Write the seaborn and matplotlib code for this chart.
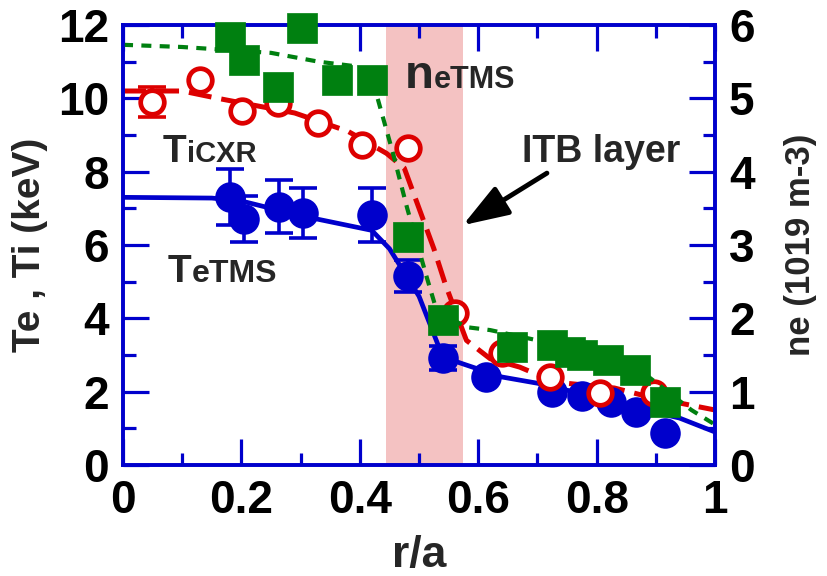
import numpy as np
import pandas as pd
import matplotlib
matplotlib.use("Agg")
import matplotlib.pyplot as plt
import seaborn as sns
from matplotlib.ticker import MultipleLocator, FuncFormatter

# ---------------- data ----------------
# Te (TMS), keV
te_r = [0.181, 0.204, 0.264, 0.304, 0.421, 0.481, 0.541, 0.613, 0.725, 0.775, 0.824, 0.867, 0.916]
te_val = [7.31, 6.72, 7.05, 6.87, 6.82, 5.15, 2.92, 2.40, 1.99, 1.88, 1.72, 1.45, 0.87]
te_err = [0.76, 0.63, 0.72, 0.68, 0.74, 0.44, 0.33, 0, 0, 0, 0, 0, 0]
te_fit_r = [0.0, 0.15, 0.2, 0.3, 0.42, 0.45, 0.5, 0.54, 0.57, 0.64, 0.7, 0.8, 0.86, 0.94, 1.0]
te_fit = [7.3, 7.28, 7.2, 6.8, 6.4, 5.9, 4.6, 2.95, 2.78, 2.4, 2.23, 1.85, 1.58, 1.28, 0.9]

# Ti (CXR), keV
ti_r = [0.049, 0.130, 0.201, 0.262, 0.329, 0.404, 0.481, 0.561, 0.640, 0.721, 0.806, 0.897]
ti_val = [9.9, 10.5, 9.65, 9.87, 9.33, 8.73, 8.64, 4.15, 3.05, 2.4, 1.96, 1.96]
ti_err = [0.41, 0, 0, 0, 0, 0, 0, 0, 0, 0, 0, 0]
ti_fit_r = [0.0, 0.1, 0.16, 0.29, 0.38, 0.445, 0.475, 0.5, 0.525, 0.545, 0.58, 0.62, 0.67, 0.73, 0.83, 0.89, 1.0]
ti_fit = [10.2, 10.2, 10.0, 9.6, 9.1, 8.5, 8.1, 7.0, 5.9, 4.9, 3.4, 2.9, 2.67, 2.26, 2.1, 1.85, 1.5]

# ne (TMS), 1e19 m-3
ne_r = [0.181, 0.204, 0.262, 0.302, 0.361, 0.421, 0.481, 0.541, 0.657, 0.725, 0.755, 0.775, 0.819, 0.865, 0.916]
ne_val = [5.84, 5.52, 5.15, 5.96, 5.25, 5.25, 3.11, 1.98, 1.61, 1.64, 1.54, 1.50, 1.43, 1.30, 0.86]
ne_fit_r = [0.0, 0.1, 0.25, 0.33, 0.4, 0.43, 0.456, 0.48, 0.513, 0.53, 0.58, 0.62, 0.7, 0.8, 0.88, 0.92, 0.96, 1.0]
ne_fit = [5.73, 5.7, 5.62, 5.5, 5.43, 5.0, 4.25, 3.5, 2.56, 2.1, 1.88, 1.84, 1.7, 1.5, 1.25, 1.0, 0.75, 0.55]

itb_range = [0.4445, 0.5745]

x_label = "r/a"
y_label = "Te , Ti (keV)"
y2_label = "ne (1019 m-3)"

# ---------------- style ----------------
sns.set_style("ticks")
plt.rcParams["font.family"] = ["Liberation Sans", "DejaVu Sans"]
plt.rcParams["font.weight"] = "bold"
plt.rcParams["axes.labelweight"] = "bold"

BLUE = "#0000CC"
RED = "#DD0000"
GREEN = "#008010"
PINK = "#F4C2C2"

fig = plt.figure(figsize=(8.28, 5.76), dpi=100)
ax = fig.add_axes([0.1486, 0.1927, 0.715, 0.7639])
ax2 = ax.twinx()

# shaded ITB layer
ax.axvspan(itb_range[0], itb_range[1], color=PINK, lw=0, zorder=0)

te_fit_df = pd.DataFrame({"r": te_fit_r, "v": te_fit})
ti_fit_df = pd.DataFrame({"r": ti_fit_r, "v": ti_fit})
ne_fit_df = pd.DataFrame({"r": ne_fit_r, "v": ne_fit})
te_df = pd.DataFrame({"r": te_r, "v": te_val, "e": te_err})
ti_df = pd.DataFrame({"r": ti_r, "v": ti_val, "e": ti_err})
ne_df = pd.DataFrame({"r": ne_r, "v": ne_val})

# fits
sns.lineplot(data=ti_fit_df, x="r", y="v", ax=ax, color=RED, lw=3.6,
             sort=False, estimator=None, zorder=2)
ax.lines[-1].set_dashes((4.6, 2.0))
sns.lineplot(data=te_fit_df, x="r", y="v", ax=ax, color=BLUE, lw=3.4,
             sort=False, estimator=None, zorder=2)

# Te points + error bars
te_e = te_df[te_df["e"] > 0]
ax.errorbar(te_e["r"], te_e["v"], yerr=te_e["e"], fmt="none", ecolor=BLUE,
            elinewidth=2.6, capsize=10, capthick=2.6, zorder=3)
sns.scatterplot(data=te_df, x="r", y="v", ax=ax, color=BLUE, marker="o",
                s=22 ** 2, edgecolor=BLUE, linewidth=0, zorder=4, clip_on=False)

# Ti points
ti_e = ti_df[ti_df["e"] > 0]
ax.errorbar(ti_e["r"], ti_e["v"], yerr=ti_e["e"], fmt="none", ecolor=RED,
            elinewidth=2.6, capsize=10, capthick=2.6, zorder=5)
sns.scatterplot(data=ti_df, x="r", y="v", ax=ax, color="white", marker="o",
                s=17 ** 2, edgecolor=RED, linewidth=3.4, zorder=6, clip_on=False)

# ne
sns.lineplot(data=ne_fit_df, x="r", y="v", ax=ax2, color=GREEN, lw=3.0,
             sort=False, estimator=None, zorder=2)
ax2.lines[-1].set_dashes((2.4, 2.0))
sns.scatterplot(data=ne_df, x="r", y="v", ax=ax2, color=GREEN, marker="s",
                s=21 ** 2, edgecolor=GREEN, linewidth=0.5, zorder=4, clip_on=False)

# ---------------- axes ----------------
ax.set_xlim(0, 1)
ax.set_ylim(0, 12)
ax2.set_ylim(0, 6)

ax.xaxis.set_major_locator(MultipleLocator(0.2))
ax.xaxis.set_minor_locator(MultipleLocator(0.1))
ax.yaxis.set_major_locator(MultipleLocator(2))
ax.yaxis.set_minor_locator(MultipleLocator(1))
ax2.yaxis.set_major_locator(MultipleLocator(1))
ax2.yaxis.set_minor_locator(MultipleLocator(0.5))
ax.xaxis.set_major_formatter(FuncFormatter(lambda v, p: "{:g}".format(round(v, 1))))

for a in (ax, ax2):
    for s in a.spines.values():
        s.set_color(BLUE)
        s.set_linewidth(2.6)
        s.set_visible(True)

ax.tick_params(axis="both", which="both", direction="in", color=BLUE,
               width=2.3, labelsize=33, pad=10, labelcolor="black")
ax.tick_params(axis="both", which="major", length=19)
ax.tick_params(axis="both", which="minor", length=9)
ax.tick_params(axis="x", top=True, which="both")
ax.tick_params(axis="y", right=False, which="both")
ax2.tick_params(axis="y", which="both", direction="in", color=BLUE, width=2.3,
                labelsize=33, pad=10, labelcolor="black", left=False, right=True)
ax2.tick_params(axis="y", which="major", length=19)
ax2.tick_params(axis="y", which="minor", length=9)
for lab in ax.get_xticklabels() + ax.get_yticklabels() + ax2.get_yticklabels():
    lab.set_fontweight("bold")

ax.set_xlabel(x_label, fontsize=32, fontweight="bold", va="center")
ax.xaxis.set_label_coords(0.5, -0.205)
ax.set_ylabel(y_label, fontsize=28, fontweight="bold", va="center")
ax.yaxis.set_label_coords(-0.157, 0.5)
ax2.set_ylabel(y2_label, fontsize=25, fontweight="bold", va="center", rotation=90)
ax2.yaxis.set_label_coords(1.1436, 0.5)

# ---------------- annotations ----------------
def mixed(a, x, y, big, small, bs, ss):
    t1 = a.text(x, y, big, fontsize=bs, fontweight="bold", va="baseline",
                ha="left", zorder=10)
    dy = 0.21 * (bs - ss)
    a.annotate(small, xy=(1, 0), xycoords=t1, xytext=(0, dy),
               textcoords="offset points", fontsize=ss, fontweight="bold",
               va="bottom", ha="left", zorder=10)

mixed(ax, 0.0676, 8.26, "T", "iCXR", 28, 21)
mixed(ax, 0.076, 4.99, "T", "eTMS", 28, 23)
mixed(ax, 0.476, 10.28, "n", "eTMS", 34, 22)

ax.text(0.674, 8.26, "ITB layer", fontsize=27, fontweight="bold",
        va="baseline", ha="left", zorder=10)
ax.annotate("", xy=(0.574, 6.54), xytext=(0.716, 7.96),
            arrowprops=dict(arrowstyle="-|>,head_length=1.0,head_width=0.35",
                            mutation_scale=28, lw=3.5, color="black",
                            shrinkA=0, shrinkB=0), zorder=10)

fig.savefig("out.png", dpi=100)
